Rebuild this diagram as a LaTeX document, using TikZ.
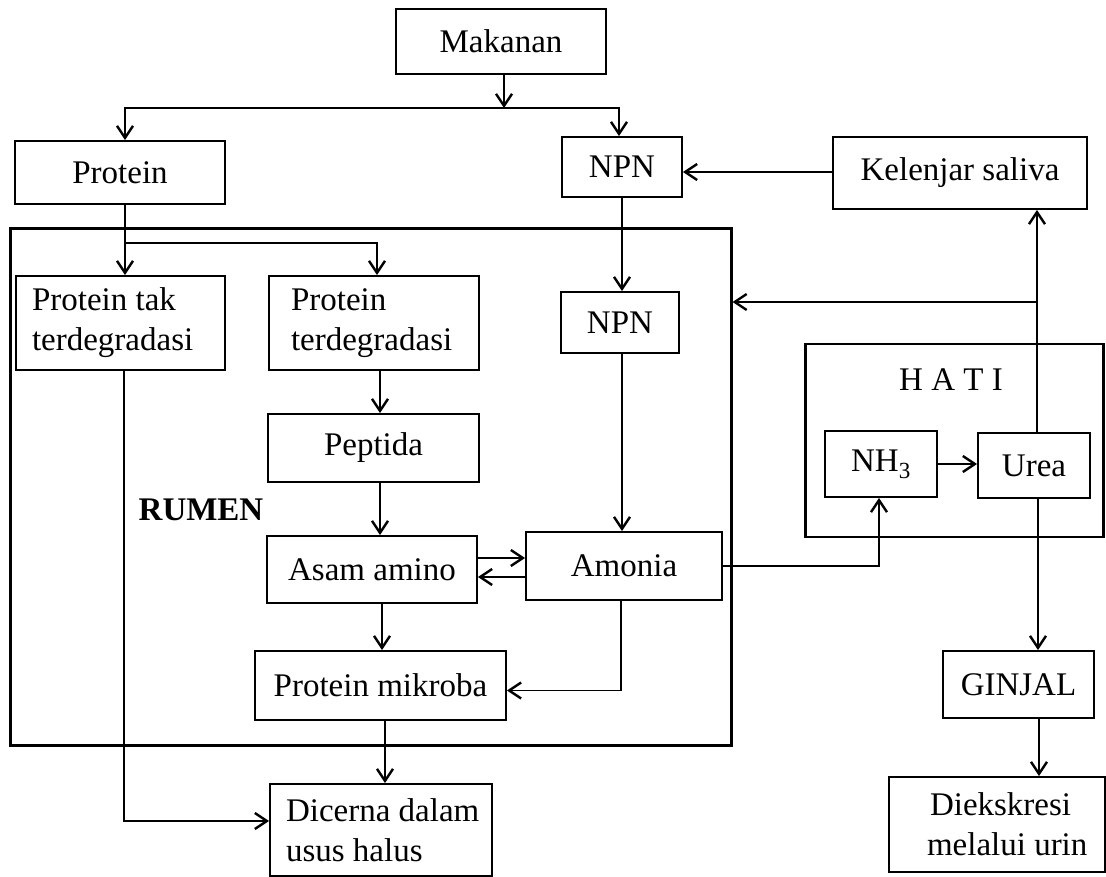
\documentclass[tikz,border=0pt]{standalone}
\usepackage{fontspec}
\setmainfont{Liberation Serif}
\usetikzlibrary{arrows.meta}
\begin{document}
\begin{tikzpicture}[x=1pt,y=-1pt,
  box/.style={draw, line width=1.9pt, inner sep=0pt, font=\fontsize{33}{40}\selectfont, align=center},
  lbox/.style={box, align=flush left},
  con/.style={line width=1.6pt},
  arr/.style={con, -{Straight Barb[length=12pt,width=16pt,line width=2.4pt]}},
  frame/.style={draw, inner sep=0pt},
  lbl/.style={font=\fontsize{33}{40}\selectfont, inner sep=0pt}
]
\useasboundingbox (0,0) rectangle (1106,877);

% containers
\node[frame, line width=3pt, minimum width=721pt, minimum height=516pt] (rumen) at (370.5,487) {};
\node[frame, line width=2.6pt, minimum width=298pt, minimum height=193pt] (hati) at (954.5,440.5) {};
\node[lbl, font={\fontsize{33}{40}\selectfont\bfseries}] (rumenlbl) at (201,510) {RUMEN};
\node[lbl] (hatilbl) at (951,380) {H A T I};

% boxes
\node[box, minimum width=210pt, minimum height=65pt] (mak) at (501,41.5) {Makanan};
\node[box, minimum width=210pt, minimum height=63pt] (prot) at (120,172.5) {Protein};
\node[box, minimum width=120pt, minimum height=60pt] (npn1) at (622,167) {NPN};
\node[box, minimum width=254pt, minimum height=72pt] (kel) at (960,173) {Kelenjar saliva};
\node[lbox, text width=177pt, inner xsep=16pt, minimum height=94pt] (ptak) at (120.5,323) {Protein tak\\terdegradasi};
\node[lbox, text width=178pt, inner xsep=16pt, minimum height=94pt] (pter) at (374,323) {\hspace*{6pt}Protein\\\hspace*{6pt}terdegradasi};
\node[box, minimum width=118pt, minimum height=61pt] (npn2) at (620,322.5) {NPN};
\node[box, minimum width=211pt, minimum height=68pt] (pep) at (373.5,448) {Peptida};
\node[box, minimum width=210pt, minimum height=67pt] (asam) at (372,569.5) {Asam amino};
\node[box, minimum width=196pt, minimum height=68pt] (amon) at (624,566) {Amonia};
\node[box, minimum width=112pt, minimum height=66pt] (nh3) at (881,464) {NH\textsubscript{3}};
\node[box, minimum width=112pt, minimum height=65pt] (urea) at (1034,465.5) {Urea};
\node[box, minimum width=251pt, minimum height=69pt] (mik) at (380.5,685.5) {Protein mikroba};
\node[lbox, text width=208pt, inner xsep=7pt, minimum height=92pt] (dic) at (381,830) {\hspace*{9pt}Dicerna dalam\\\hspace*{9pt}usus halus};
\node[box, minimum width=151pt, minimum height=67pt] (gin) at (1018.5,684.5) {GINJAL};
\node[lbox, text width=204pt, inner xsep=6pt, minimum height=95pt] (diek) at (997,824.5) {\hspace*{35pt}Diekskresi\\\hspace*{32pt}melalui urin};

% connectors
\coordinate (j1) at (504,108);
\draw[arr] (mak.south -| j1) -- (j1);
\draw[arr] (j1) -| ([xshift=5pt]prot.north);
\draw[arr] (j1) -| ([xshift=-3pt]npn1.north);

\coordinate (j2) at (125,243);
\draw[con] ([xshift=5pt]prot.south) -- (j2);
\draw[arr] (j2) -- (j2 |- ptak.north);
\draw[arr] (j2) -| ([xshift=3pt]pter.north);

\draw[arr] (npn1.south) -- (npn1.south |- npn2.north);
\draw[arr] ([yshift=1pt]kel.west) -- ([yshift=1pt]kel.west -| npn1.east);

\coordinate (j3) at (1037,302);
\draw[arr] ([xshift=3pt]urea.north) -- ([xshift=3pt]urea.north |- kel.south);
\draw[arr] (j3) -- (j3 -| rumen.east);
\draw[arr] ([xshift=4pt]urea.south) -- ([xshift=4pt]urea.south |- gin.north);
\draw[arr] ([xshift=20.5pt]gin.south) -- ([xshift=20.5pt]gin.south |- diek.north);
\draw[arr] (nh3.east) -- (nh3.east -| urea.west);
\draw[arr] (amon.east) -| ([xshift=-2pt]nh3.south);

\draw[arr] ([xshift=2pt]npn2.south) -- ([xshift=2pt]npn2.south |- amon.north);
\draw[arr] ([xshift=6pt]pter.south) -- ([xshift=6pt]pter.south |- pep.north);
\draw[arr] ([xshift=6.5pt]pep.south) -- ([xshift=6.5pt]pep.south |- asam.north);
\draw[arr] ([yshift=11.5pt]asam.east) -- ([yshift=11.5pt]asam.east -| amon.west);
\draw[arr] ([yshift=-7.5pt]asam.east -| amon.west) -- ([yshift=-7.5pt]asam.east);
\draw[arr] ([xshift=10pt]asam.south) -- ([xshift=10pt]asam.south |- mik.north);
\draw[arr] ([xshift=-3pt]amon.south) |- ([yshift=-5pt]mik.east);
\draw[arr] ([xshift=4.5pt]mik.south) -- ([xshift=4.5pt]mik.south |- dic.north);
\draw[arr] ([xshift=3.5pt]ptak.south) |- ([yshift=9pt]dic.west);
\end{tikzpicture}
\end{document}
